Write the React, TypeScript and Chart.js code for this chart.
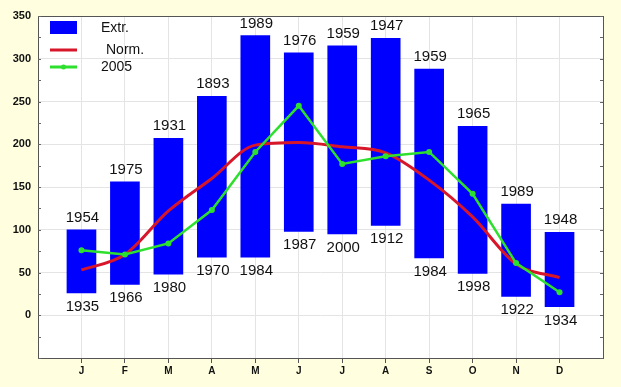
import React, { useEffect, useRef } from "react";
import { Chart, registerables } from "chart.js";

Chart.register(...registerables);

const months = ["J", "F", "M", "A", "M", "J", "J", "A", "S", "O", "N", "D"];
const extHi = [100, 156, 207, 256, 327, 307, 315, 324, 288, 221, 130, 97];
const extLo = [26, 36, 48, 68, 68, 98, 95, 105, 67, 49, 22, 10];
const hiYears = [1954, 1975, 1931, 1893, 1989, 1976, 1959, 1947, 1959, 1965, 1989, 1948];
const loYears = [1935, 1966, 1980, 1970, 1984, 1987, 2000, 1912, 1984, 1998, 1922, 1934];
const norm = [53, 71, 122, 160, 199, 202, 197, 190, 158, 115, 60, 44];
const y2005 = [76, 71, 84, 123, 191, 245, 177, 186, 191, 142, 61, 27];
const yTicks = [-50, 0, 50, 100, 150, 200, 250, 300, 350];

const FONT = "'Liberation Sans', Arial, sans-serif";
const BLUE = "#0000ff";
const RED = "#d8162a";
const GREEN = "#2ee02e";

export default function App() {
  const ref = useRef<HTMLCanvasElement | null>(null);

  useEffect(() => {
    document.body.style.margin = "0";
    const canvas = ref.current!;

    const bgPlugin = {
      id: "bg",
      beforeDraw(chart: any) {
        const { ctx, chartArea: a } = chart;
        ctx.save();
        ctx.fillStyle = "#ffffe0";
        ctx.fillRect(0, 0, chart.width, chart.height);
        ctx.fillStyle = "#ffffff";
        ctx.fillRect(a.left, a.top, a.right - a.left, a.bottom - a.top);
        ctx.restore();
      },
    };

    const overlayPlugin = {
      id: "overlay",
      afterDatasetsDraw(chart: any) {
        const { ctx, chartArea: a } = chart;
        const meta = chart.getDatasetMeta(0);
        ctx.save();
        ctx.fillStyle = "#111";
        ctx.font = `15px ${FONT}`;
        ctx.textAlign = "center";
        ctx.textBaseline = "alphabetic";
        meta.data.forEach((el: any, i: number) => {
          const top = Math.min(el.y, el.base);
          const bot = Math.max(el.y, el.base);
          ctx.fillText(String(hiYears[i]), el.x + 1, top - 8);
          ctx.fillText(String(loYears[i]), el.x + 1, bot + 18);
        });

        // legend
        const lx = a.left + 12;
        ctx.fillStyle = BLUE;
        ctx.fillRect(lx, a.top + 5, 27, 13);
        ctx.strokeStyle = RED;
        ctx.lineWidth = 3;
        ctx.beginPath();
        ctx.moveTo(lx, a.top + 34);
        ctx.lineTo(lx + 27, a.top + 34);
        ctx.stroke();
        ctx.strokeStyle = GREEN;
        ctx.beginPath();
        ctx.moveTo(lx, a.top + 51);
        ctx.lineTo(lx + 27, a.top + 51);
        ctx.stroke();
        ctx.fillStyle = GREEN;
        ctx.beginPath();
        ctx.arc(lx + 13.5, a.top + 51, 2.5, 0, Math.PI * 2);
        ctx.fill();
        ctx.fillStyle = "#111";
        ctx.font = `14px ${FONT}`;
        ctx.textAlign = "left";
        ctx.textBaseline = "middle";
        ctx.fillText("Extr.", lx + 51, a.top + 12);
        ctx.fillText("Norm.", lx + 56, a.top + 34);
        ctx.fillText("2005", lx + 51, a.top + 51);
        ctx.restore();
      },
      afterDraw(chart: any) {
        const { ctx, chartArea: a, scales } = chart;
        ctx.save();
        ctx.strokeStyle = "#555";
        ctx.lineWidth = 1;
        ctx.strokeRect(Math.round(a.left) + 0.5, Math.round(a.top) + 0.5, Math.round(a.right - a.left), Math.round(a.bottom - a.top));
        ctx.strokeStyle = "#666";
        for (let v = -50; v <= 350; v += 25) {
          const py = Math.round(scales.y.getPixelForValue(v)) + 0.5;
          ctx.beginPath();
          ctx.moveTo(a.left, py);
          ctx.lineTo(a.left + 3, py);
          ctx.moveTo(a.right - 3, py);
          ctx.lineTo(a.right, py);
          ctx.stroke();
        }
        ctx.restore();
      },
    };

    const chart = new Chart(canvas, {
      type: "bar",
      data: {
        datasets: [
          {
            type: "bar",
            label: "Extr.",
            data: months.map((_, i) => ({ x: i + 1, y: [extLo[i], extHi[i]] })) as any,
            backgroundColor: BLUE,
            borderWidth: 0,
            barThickness: 29,
            order: 3,
          },
          {
            type: "line",
            label: "Norm.",
            data: months.map((_, i) => ({ x: i + 1, y: norm[i] })) as any,
            borderColor: RED,
            borderWidth: 3,
            pointRadius: 0,
            cubicInterpolationMode: "monotone",
            order: 2,
          },
          {
            type: "line",
            label: "2005",
            data: months.map((_, i) => ({ x: i + 1, y: y2005[i] })) as any,
            borderColor: GREEN,
            backgroundColor: GREEN,
            borderWidth: 2.5,
            pointRadius: 3,
            pointBorderWidth: 0,
            tension: 0,
            order: 1,
          },
        ],
      },
      plugins: [bgPlugin, overlayPlugin],
      options: {
        animation: false,
        responsive: false,
        maintainAspectRatio: false,
        layout: { padding: { left: 0, top: 16, right: 18, bottom: 0 } },
        plugins: { legend: { display: false }, tooltip: { enabled: false } },
        scales: {
          x: {
            type: "linear",
            min: 0,
            max: 13,
            offset: false,
            afterFit(scale: any) {
              scale.height = 29;
            },
            afterBuildTicks(scale: any) {
              scale.ticks = months.map((_, i) => ({ value: i + 1 }));
            },
            ticks: {
              autoSkip: false,
              maxRotation: 0,
              padding: 2,
              color: "#111",
              font: { family: FONT, size: 10, weight: "bold" },
              callback: (v: any) => months[Number(v) - 1] ?? "",
            },
            grid: { offset: false, color: "#e4e4e4", tickColor: "#555", tickLength: 5 },
            border: { display: false },
          },
          y: {
            type: "linear",
            min: -50,
            max: 350,
            afterFit(scale: any) {
              scale.width = 38;
            },
            afterBuildTicks(scale: any) {
              scale.ticks = yTicks.map((v) => ({ value: v }));
            },
            ticks: {
              padding: 7,
              color: "#111",
              font: { family: FONT, size: 11, weight: "bold" },
              callback: (v: any) => (Number(v) < 0 ? "" : String(v)),
            },
            grid: { color: "#e4e4e4", drawTicks: false },
            border: { display: false },
          },
        },
      } as any,
    });
    return () => chart.destroy();
  }, []);

  return <canvas ref={ref} width={621} height={387} style={{ display: "block", width: 621, height: 387 }} />;
}
